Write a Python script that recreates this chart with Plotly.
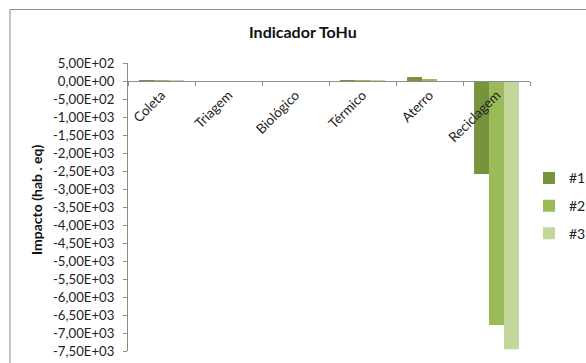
import plotly.graph_objects as go

# Impact indicator ToHu per process stage, three scenarios
categories = ["Coleta", "Triagem", "Biológico", "Térmico", "Aterro", "Reciclagem"]
serie_1 = [2, 0, -3, 4, 110, -2580]
serie_2 = [3, 0, -2, 3, 30, -6780]
serie_3 = [20, 0, -20, 20, 0, -7450]
series_names = ["#1", "#2", "#3"]
series_colors = ["#77933C", "#9BBB59", "#C3D69B"]

y_ticks = list(range(500, -7501, -500))
y_ticktext = [f"{v:.2E}".replace(".", ",") for v in y_ticks]

FONT = "Lato"
AXIS_COLOR = "#8c8c8c"

fig = go.Figure()
for name, vals, col in zip(series_names, [serie_1, serie_2, serie_3], series_colors):
    fig.add_trace(go.Bar(
        x=categories, y=vals, name=name, marker_color=col,
        marker_line_width=0, legendgroup=name,
    ))

y_min, y_max = -7500, 500
zero_pos = (0 - y_min) / (y_max - y_min)

fig.update_layout(
    template="none",
    width=586, height=363,
    margin=dict(l=128, r=56, t=63, b=12, autoexpand=False),
    paper_bgcolor="white", plot_bgcolor="white",
    barmode="group", bargap=0.33, bargroupgap=0,
    font=dict(family=FONT, size=14, color="#222222"),
    title=dict(
        text="<b>Indicador ToHu</b>", x=0.435, xref="paper", xanchor="center",
        y=1 - 32 / 363, yref="container", yanchor="middle",
        font=dict(family=FONT, size=16, color="#111111"),
    ),
    xaxis=dict(
        type="category", anchor="free", position=zero_pos, automargin=False,
        showline=True, linecolor=AXIS_COLOR, linewidth=1,
        ticks="outside", ticklen=4, tickcolor=AXIS_COLOR, tickson="boundaries",
        tickangle=-45, showgrid=False, zeroline=False,
        tickfont=dict(family=FONT, size=13.5, color="#222222"),
    ),
    yaxis=dict(
        range=[y_min, y_max], tickvals=y_ticks, ticktext=y_ticktext,
        automargin=False,
        showline=True, linecolor=AXIS_COLOR, linewidth=1,
        ticks="outside", ticklen=4, tickcolor=AXIS_COLOR, ticklabelstandoff=6,
        showgrid=False, zeroline=False,
        tickfont=dict(family=FONT, size=13.2, color="#222222"),
    ),
    legend=dict(
        x=0.9975, xanchor="left", y=0.655, yanchor="top",
        bgcolor="rgba(0,0,0,0)", borderwidth=0, tracegroupgap=6.5,
        font=dict(family=FONT, size=14, color="#222222"),
    ),
    annotations=[dict(
        text="<b>Impacto (hab . eq)</b>", textangle=-90,
        xref="paper", yref="paper", x=(36 - 128) / 402, y=(351 - 200) / 288,
        xanchor="center", yanchor="middle", showarrow=False,
        font=dict(family=FONT, size=14, color="#111111"),
    )],
    shapes=[dict(
        type="rect", xref="paper", yref="paper",
        x0=(10 - 128) / 402, x1=1.3, y0=-0.3, y1=(351 - 9.5) / 288,
        line=dict(color="#8c8c8c", width=1), fillcolor="rgba(0,0,0,0)",
        layer="below",
    )],
)

fig.write_html("out.html")
